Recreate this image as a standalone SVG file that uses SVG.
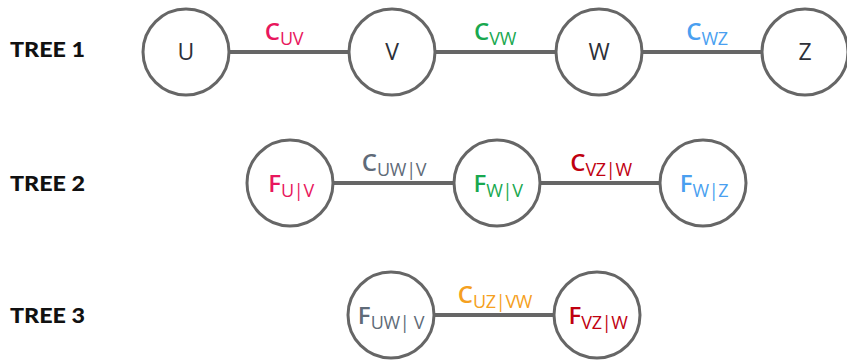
<svg xmlns="http://www.w3.org/2000/svg" width="847" height="362" viewBox="0 0 847 362">
  <style>
    .node circle { fill: #ffffff; stroke: #666666; stroke-width: 3; }
    .edge { stroke: #666666; stroke-width: 4; }
    .tree { font-family: Lato, "Open Sans", sans-serif; font-weight: 900; font-size: 20px; fill: #111111; }
    .plain { font-family: "Open Sans", Lato, sans-serif; font-size: 23px; fill: #2d3038; text-anchor: middle; }
    .lab { font-family: "Open Sans", Lato, sans-serif; text-anchor: middle; }
    .big { font-size: 24px; font-weight: 600; }
    .sub { font-size: 18px; font-weight: 500; letter-spacing: -0.3px; }
    .pink { fill: #e8175d; }
    .green { fill: #19a84f; }
    .blue { fill: #4a9ff0; }
    .slate { fill: #5f6b78; }
    .dred { fill: #c00010; }
    .orange { fill: #f5a020; }
  </style>

  <!-- row titles -->
  <text class="tree" x="10" y="57" textLength="75" lengthAdjust="spacingAndGlyphs">TREE 1</text>
  <text class="tree" x="10" y="191" textLength="75" lengthAdjust="spacingAndGlyphs">TREE 2</text>
  <text class="tree" x="10" y="323" textLength="75" lengthAdjust="spacingAndGlyphs">TREE 3</text>

  <!-- connectors -->
  <g id="connectors">
    <line class="edge" x1="186" y1="52" x2="392" y2="52"/>
    <line class="edge" x1="392" y1="52" x2="599" y2="52"/>
    <line class="edge" x1="599" y1="52" x2="805" y2="52"/>
    <line class="edge" x1="290" y1="183" x2="497" y2="183"/>
    <line class="edge" x1="497" y1="183" x2="703" y2="183"/>
    <line class="edge" x1="391" y1="315" x2="597" y2="315"/>

    <text class="lab" x="284" y="40"><tspan class="big pink">C</tspan><tspan class="sub pink" dy="5">UV</tspan></text>
    <text class="lab" x="495" y="40"><tspan class="big green">C</tspan><tspan class="sub green" dy="5">VW</tspan></text>
    <text class="lab" x="707" y="40"><tspan class="big blue">C</tspan><tspan class="sub blue" dy="5">WZ</tspan></text>
    <text class="lab" x="394" y="171"><tspan class="big slate">C</tspan><tspan class="sub slate" dy="5">UW|V</tspan></text>
    <text class="lab" x="601" y="171"><tspan class="big dred">C</tspan><tspan class="sub dred" dy="5">VZ|W</tspan></text>
    <text class="lab" x="495" y="303"><tspan class="big orange">C</tspan><tspan class="sub orange" dy="5">UZ|VW</tspan></text>
  </g>

  <!-- tree 1 -->
  <g id="node-u" class="node"><circle cx="186" cy="52" r="43"/><text class="plain" x="186" y="60">U</text></g>
  <g id="node-v" class="node"><circle cx="392" cy="52" r="43"/><text class="plain" x="392" y="60">V</text></g>
  <g id="node-w" class="node"><circle cx="599" cy="52" r="43"/><text class="plain" x="599" y="60">W</text></g>
  <g id="node-z" class="node"><circle cx="805" cy="52" r="43"/><text class="plain" x="805" y="60">Z</text></g>

  <!-- tree 2 -->
  <g id="node-fuv" class="node"><circle cx="290" cy="183" r="43"/><text class="lab" x="291" y="192"><tspan class="big pink">F</tspan><tspan class="sub pink" dy="5">U|V</tspan></text></g>
  <g id="node-fwv" class="node"><circle cx="497" cy="183" r="43"/><text class="lab" x="498" y="192"><tspan class="big green">F</tspan><tspan class="sub green" dy="5">W|V</tspan></text></g>
  <g id="node-fwz" class="node"><circle cx="703" cy="183" r="43"/><text class="lab" x="704" y="192"><tspan class="big blue">F</tspan><tspan class="sub blue" dy="5">W|Z</tspan></text></g>

  <!-- tree 3 -->
  <g id="node-fuwv" class="node"><circle cx="391" cy="315" r="43"/><text class="lab" x="391" y="324"><tspan class="big slate">F</tspan><tspan class="sub slate" dy="5">UW| V</tspan></text></g>
  <g id="node-fvzw" class="node"><circle cx="597" cy="315" r="43"/><text class="lab" x="598" y="324"><tspan class="big dred">F</tspan><tspan class="sub dred" dy="5">VZ|W</tspan></text></g>
</svg>
